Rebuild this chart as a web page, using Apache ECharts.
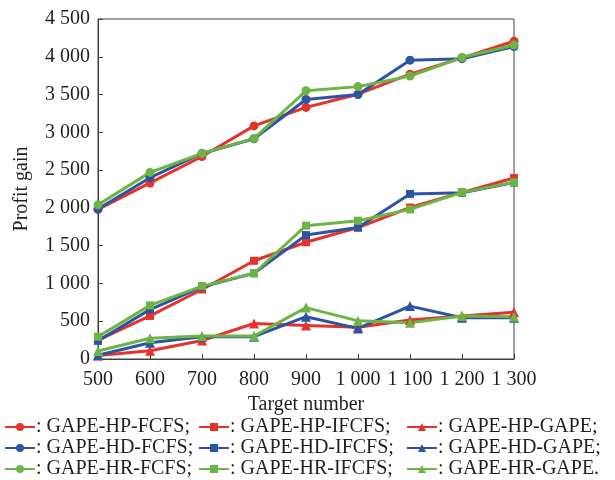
<!DOCTYPE html>
<html>
<head>
<meta charset="utf-8">
<script src="https://cdn.jsdelivr.net/npm/echarts@6/dist/echarts.min.js"></script>
<style>
html,body{margin:0;padding:0;background:#fff;}
#main{width:615px;height:480px;}
</style>
</head>
<body>
<div id="main"></div>
<script>
// target numbers on the x axis
var targets = [500, 600, 700, 800, 900, 1000, 1100, 1200, 1300];

// FCFS (circles)
var hpFcfs = [1980, 2330, 2680, 3085, 3330, 3505, 3770, 3985, 4205];
var hdFcfs = [1985, 2400, 2720, 2915, 3435, 3500, 3955, 3975, 4135];
var hrFcfs = [2040, 2470, 2720, 2920, 3550, 3605, 3745, 3990, 4155];

// IFCFS (squares)
var hpIfcfs = [250, 570, 920, 1300, 1545, 1740, 2005, 2205, 2395];
var hdIfcfs = [240, 655, 955, 1135, 1640, 1740, 2185, 2200, 2335];
var hrIfcfs = [295, 710, 965, 1135, 1765, 1830, 1980, 2205, 2340];

// GAPE (triangles)
var hpGape = [45, 110, 245, 470, 445, 420, 515, 570, 620];
var hdGape = [50, 215, 295, 295, 560, 405, 700, 545, 545];
var hrGape = [105, 275, 305, 305, 680, 505, 480, 570, 560];

var red = '#e5322d', blue = '#2c54a3', green = '#6cb545';

function pairs(vals) {
    var out = [];
    for (var i = 0; i < targets.length; i++) {
        out.push([targets[i], vals[i]]);
    }
    return out;
}
function spaced(v) {
    return v >= 1000 ? Math.floor(v / 1000) + ' ' + String(v % 1000 + 1000).slice(1) : String(v);
}
function mk(name, color, symbol, size, vals) {
    return {
        name: name,
        type: 'line',
        data: pairs(vals),
        symbol: symbol,
        symbolSize: size,
        lineStyle: { color: color, width: 3 },
        itemStyle: { color: color },
        z: 3
    };
}

var series = [
    mk('GAPE-HP-FCFS', red, 'circle', 9, hpFcfs),
    mk('GAPE-HD-FCFS', blue, 'circle', 9, hdFcfs),
    mk('GAPE-HR-FCFS', green, 'circle', 9, hrFcfs),
    mk('GAPE-HP-IFCFS', red, 'rect', 8, hpIfcfs),
    mk('GAPE-HD-IFCFS', blue, 'rect', 8, hdIfcfs),
    mk('GAPE-HR-IFCFS', green, 'rect', 8, hrIfcfs),
    mk('GAPE-HP-GAPE', red, 'triangle', 10, hpGape),
    mk('GAPE-HD-GAPE', blue, 'triangle', 10, hdGape),
    mk('GAPE-HR-GAPE', green, 'triangle', 10, hrGape)
];

var font = 'Liberation Serif';
function legendCol(left, names) {
    return {
        orient: 'vertical',
        left: left,
        top: 417,
        itemWidth: 30,
        itemHeight: 10,
        itemGap: 1,
        padding: 0,
        selectedMode: false,
        data: names,
        formatter: function (n) {
            return ': ' + n + (n === 'GAPE-HR-GAPE' ? '.' : ';');
        },
        textStyle: { fontFamily: font, fontSize: 20, color: '#231f20', lineHeight: 20, padding: [0, 0, 0, -4] }
    };
}

var myChart = echarts.init(document.getElementById('main'));
var option = {
    backgroundColor: '#fff',
    animation: false,
    grid: {
        left: 98, right: 101, top: 19, bottom: 121,
        show: true, borderColor: '#404040', borderWidth: 1
    },
    legend: [
        legendCol(4, ['GAPE-HP-FCFS', 'GAPE-HD-FCFS', 'GAPE-HR-FCFS']),
        legendCol(198, ['GAPE-HP-IFCFS', 'GAPE-HD-IFCFS', 'GAPE-HR-IFCFS']),
        legendCol(406, ['GAPE-HP-GAPE', 'GAPE-HD-GAPE', 'GAPE-HR-GAPE'])
    ],
    xAxis: {
        type: 'value',
        min: 500, max: 1300, interval: 100,
        name: 'Target number',
        nameLocation: 'middle',
        nameGap: 32,
        nameTextStyle: { fontFamily: font, fontSize: 20, color: '#231f20' },
        axisLine: { lineStyle: { color: '#404040', width: 1 } },
        axisTick: { inside: true, length: 5, lineStyle: { color: '#404040' } },
        axisLabel: { fontFamily: font, fontSize: 20, color: '#231f20', margin: 11, formatter: spaced },
        splitLine: { show: false }
    },
    yAxis: {
        type: 'value',
        min: 0, max: 4500, interval: 500,
        name: 'Profit gain',
        nameLocation: 'middle',
        nameGap: 66,
        nameTextStyle: { fontFamily: font, fontSize: 20, color: '#231f20' },
        axisLine: { show: true, lineStyle: { color: '#404040', width: 1 } },
        axisTick: { show: true, inside: true, length: 5, lineStyle: { color: '#404040' } },
        axisLabel: { fontFamily: font, fontSize: 20, color: '#231f20', margin: 8, formatter: spaced },
        splitLine: { show: false }
    },
    series: series
};
myChart.setOption(option);
</script>
</body>
</html>
